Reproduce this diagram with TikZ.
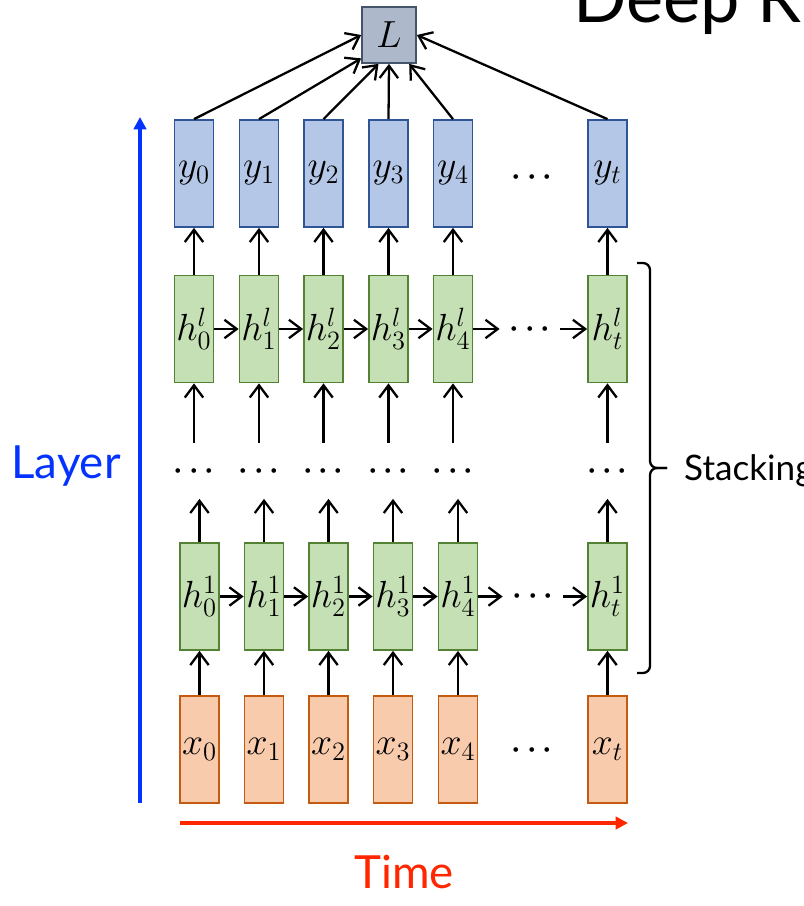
\RequirePackage{fix-cm}
\documentclass[tikz,border=0pt]{standalone}
\usepackage[no-math]{fontspec}
\setmainfont{Lato}
\usetikzlibrary{arrows.meta}
\definecolor{yfill}{RGB}{180,199,231}
\definecolor{ydraw}{RGB}{47,85,151}
\definecolor{hfill}{RGB}{197,224,180}
\definecolor{hdraw}{RGB}{84,130,53}
\definecolor{xfill}{RGB}{248,203,173}
\definecolor{xdraw}{RGB}{197,90,17}
\definecolor{lfill}{RGB}{173,185,202}
\definecolor{ldraw}{RGB}{68,84,106}
\definecolor{layerblue}{RGB}{4,51,255}
\definecolor{timered}{RGB}{255,38,0}
\newcommand{\cellfont}{\fontsize{21.5}{25}\selectfont}
\newcommand{\dotsfont}{\fontsize{17}{20}\selectfont\boldmath}

\tikzset{
  cell/.style={draw, line width=1pt, minimum width=0.78cm, minimum height=2.14cm, inner sep=0pt, font=\cellfont},
  ycell/.style={cell, fill=yfill, draw=ydraw},
  hcell/.style={cell, fill=hfill, draw=hdraw},
  xcell/.style={cell, fill=xfill, draw=xdraw},
  lcell/.style={draw=ldraw, fill=lfill, line width=1pt, minimum width=1.08cm, minimum height=1.12cm, inner sep=0pt, font=\cellfont},
  gap/.style={minimum width=1.2cm, minimum height=1.1cm, inner sep=0pt, font=\dotsfont},
  arr/.style={-{Straight Barb[length=7pt,width=10.5pt]}, line width=1.3pt},
  axis/.style={-{Triangle[length=7pt,width=7pt]}, line width=2.3pt},
}

\begin{document}
\begin{tikzpicture}[x=0.02cm, y=-0.02cm]
  \useasboundingbox (0,0) rectangle (804,906);
  \clip (0,0) rectangle (804,906);
  \node[font=\fontsize{40}{48}\selectfont, anchor=base west] (title) at (567,22) {Deep RNN};
  % loss
  \node[lcell] (L) at (389,35) {$L$};
  % one column per time step
  \foreach \i/\a/\b in {0/194/199.5, 1/259/264, 2/323.5/328.5, 3/388.5/393, 4/453/458, t/607.5/607.5} {
    \node[ycell] (y\i) at (\a,173.5) {$y_\i$};
    \node[hcell] (hl\i) at (\a,329) {$h^{l}_{\i}$};
    \node[gap] (d\i) at (\a,471) {$\cdots$};
    \node[hcell] (ho\i) at (\b,596.5) {$h^{1}_{\i}$};
    \node[xcell] (x\i) at (\b,749.5) {$x_\i$};
    \draw[arr] (x\i) -- (ho\i);
    \draw[arr] (ho\i.north) -- (ho\i.north |- d\i.south);
    \draw[arr] (hl\i.south |- d\i.north) -- (hl\i.south);
    \draw[arr] (hl\i) -- (y\i);
  }
  \node[gap] (ydots) at (532,177) {$\cdots$};
  \node[gap] (hldots) at (530,329) {$\cdots$};
  \node[gap] (hodots) at (533,596.5) {$\cdots$};
  \node[gap] (xdots) at (532,750) {$\cdots$};
  % recurrence
  \foreach \i/\j in {0/1, 1/2, 2/3, 3/4} {
    \draw[arr] (hl\i) -- (hl\j);
    \draw[arr] (ho\i) -- (ho\j);
  }
  \draw[arr] (hl4) -- (hldots); \draw[arr] (hldots) -- (hlt);
  \draw[arr] (ho4) -- (hodots); \draw[arr] (hodots) -- (hot);
  % outputs to loss
  \draw[arr] (y0.north) -- (L.west);
  \draw[arr] (y1.north) -- (L.220);
  \draw[arr] (y2.north) -- (L.250);
  \draw[arr] (y3.north) -- (L.south);
  \draw[arr] (y4.north) -- (L.305);
  \draw[arr] (yt.north) -- (L.east);
  % axes
  \coordinate (layer0) at (140,803);
  \coordinate (layer1) at (140,117);
  \draw[axis, layerblue] (layer0) -- (layer1);
  \node[font=\fontsize{26}{30}\selectfont, text=layerblue, anchor=base] (layer) at (66,478) {Layer};
  \coordinate (time0) at (180,823);
  \coordinate (time1) at (628,823);
  \draw[axis, timered] (time0) -- (time1);
  \node[font=\fontsize{26}{30}\selectfont, text=timered, anchor=base] (time) at (404,888) {Time};
  % stacking brace
  \draw[line width=1.3pt, rounded corners=4pt] (637,263) -| (650,468) -- (667,468);
  \draw[line width=1.3pt, rounded corners=4pt] (637,673) -| (650,468) -- (667,468);
  \node[font=\fontsize{20}{24}\selectfont, anchor=base west] (stack) at (678,480) {Stacking};
\end{tikzpicture}
\end{document}
